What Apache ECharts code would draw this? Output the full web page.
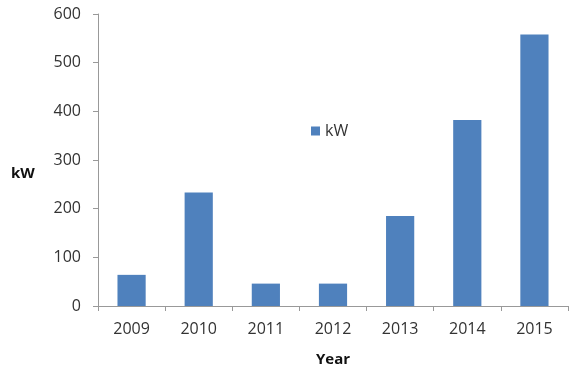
<!DOCTYPE html>
<html>
<head>
<meta charset="utf-8">
<script src="https://cdn.jsdelivr.net/npm/echarts@6/dist/echarts.min.js"></script>
<style>html,body{margin:0;padding:0;background:#fff}#c{width:569px;height:370px}</style>
</head>
<body>
<div id="c"></div>
<script>
var categories = ['2009','2010','2011','2012','2013','2014','2015'];
var kW = [64, 233, 46, 46, 185, 382, 558];
var yTicks = [0, 100, 200, 300, 400, 500, 600];

var chart = echarts.init(document.getElementById('c'), null, {renderer:'canvas'});
chart.setOption({
  animation: false,
  backgroundColor: '#fff',
  textStyle: {fontFamily: 'Open Sans, Liberation Sans, sans-serif'},
  grid: {left: 98, top: 14, right: 1, bottom: 64, outerBoundsMode: 'none', containLabel: false},
  legend: {
    data: ['kW'], left: 306, top: 118, itemWidth: 9, itemHeight: 9, itemGap: 5,
    icon: 'rect',
    textStyle: {fontSize: 16, color: '#333', fontFamily: 'Open Sans, sans-serif'}
  },
  graphic: [{
    type: 'text', left: 11, top: 166,
    style: {text: 'kW', fontSize: 15, fontWeight: 'bold', fill: '#111', fontFamily: 'Open Sans, sans-serif'}
  }],
  xAxis: {
    type: 'category', data: categories,
    name: 'Year', nameLocation: 'middle', nameGap: 46,
    nameTextStyle: {fontSize: 15, fontWeight: 'bold', color: '#111'},
    axisLine: {lineStyle: {color: '#999'}},
    axisTick: {show: true, length: 5, lineStyle: {color: '#999'}},
    axisLabel: {fontSize: 16, color: '#333', margin: 15}
  },
  yAxis: {
    type: 'value', min: yTicks[0], max: yTicks[yTicks.length-1], interval: 100,
    axisLine: {show: true, lineStyle: {color: '#999'}},
    axisTick: {show: true, length: 5, lineStyle: {color: '#999'}},
    splitLine: {show: false},
    axisLabel: {fontSize: 16, color: '#333', margin: 17}
  },
  series: [{
    name: 'kW', type: 'bar', data: kW, barWidth: '42%',
    itemStyle: {color: '#4F81BD'}
  }]
});
</script>
</body>
</html>
